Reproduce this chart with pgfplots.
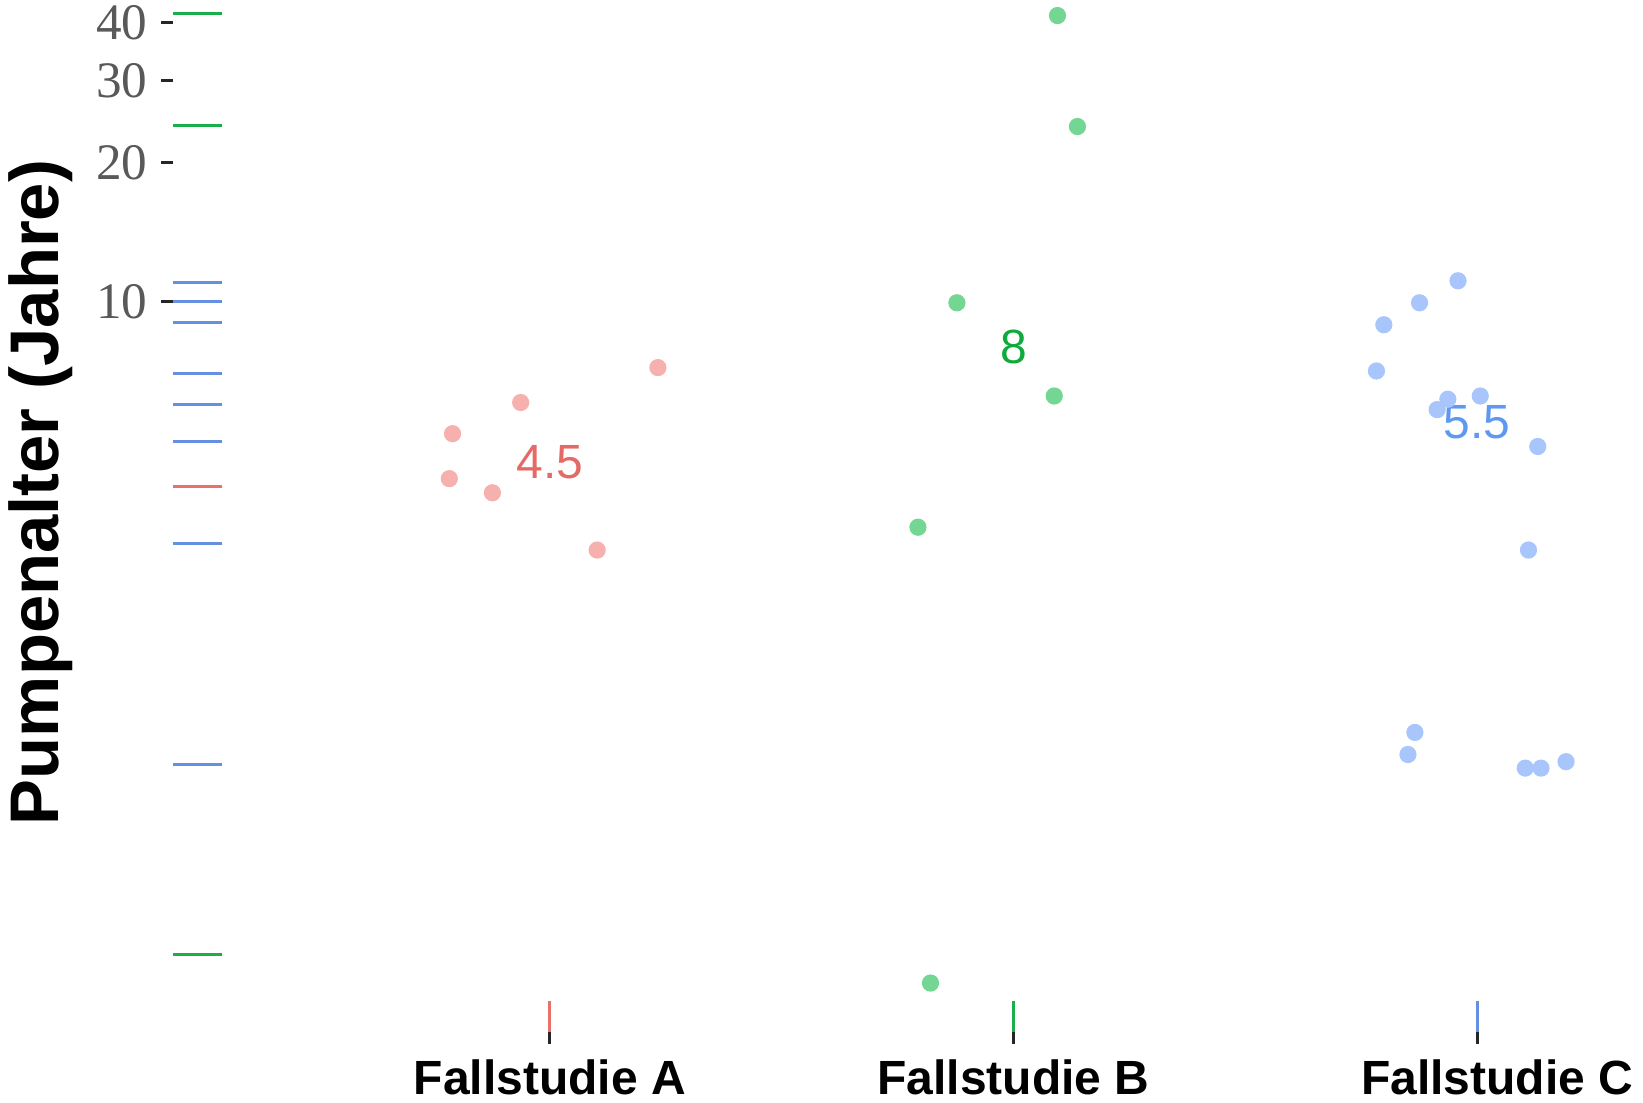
\documentclass[border=0pt]{standalone}
\usepackage{pgfplots}
\pgfplotsset{compat=1.18}
\usepackage{fontspec}
\setmainfont{Liberation Sans}
\newfontfamily\serifticks{Liberation Serif}
\definecolor{rugred}{HTML}{E8716B}
\definecolor{ruggreen}{HTML}{1BAF4A}
\definecolor{rugblue}{HTML}{6390E0}
\definecolor{ptred}{HTML}{F6B0AD}
\definecolor{ptgreen}{HTML}{73D692}
\definecolor{ptblue}{HTML}{A8C6FC}
\definecolor{txtred}{HTML}{E46A66}
\definecolor{txtgreen}{HTML}{0EAA3C}
\definecolor{txtblue}{HTML}{5E98F0}
\begin{document}
\begin{tikzpicture}
\begin{axis}[
  at={(0,0)}, anchor=south west,
  scale only axis, width=367.5pt, height=258pt,
  xmin=0.187, xmax=3.358,
  ymode=log, ymin=0.265, ymax=44.84,
  axis line style={draw=none},
  xtick={1,2,3}, xticklabels={Fallstudie A,Fallstudie B,\hspace*{10pt}Fallstudie C},
  ytick={10,20,30,40}, yticklabels={10,20,30,40},
  yminorticks=false, xminorticks=false,
  tick align=outside, xtick pos=bottom, ytick pos=left,
  major tick length=2.9pt,
  tick style={line width=0.75pt, color=black!85},
  xticklabel style={font=\bfseries\fontsize{12}{12}\selectfont, text=black, yshift=-0.5pt},
  yticklabel style={font=\serifticks\fontsize{12.8}{13}\selectfont, text=black!65},
  clip=false,
]
% points (jittered)
\addplot[only marks, color=ptred, mark=*, mark size=1.95pt, mark options={draw=ptred, fill=ptred}] coordinates {
 (0.790,5.19) (0.783,4.15) (0.876,3.87) (0.937,6.06) (1.102,2.91) (1.233,7.21)};
\addplot[only marks, color=ptgreen, mark=*, mark size=1.95pt, mark options={draw=ptgreen, fill=ptgreen}] coordinates {
 (1.878,9.95) (2.095,41.5) (2.138,23.9) (2.088,6.26) (1.794,3.26) (1.821,0.338)};
\addplot[only marks, color=ptblue, mark=*, mark size=1.95pt, mark options={draw=ptblue, fill=ptblue}] coordinates {
 (2.959,11.1) (2.876,9.95) (2.799,8.92) (2.783,7.09) (2.914,5.85) (2.937,6.16) (3.007,6.26)
 (3.131,4.87) (3.111,2.91) (2.866,1.175) (2.851,1.053) (3.104,0.984) (3.138,0.984) (3.192,1.016)};
% left rug
\addplot[only marks, mark=-, mark size=6.125pt, mark options={line width=0.75pt, draw=rugred}] coordinates {
 (0.2399,7) (0.2399,6) (0.2399,5) (0.2399,4) (0.2399,4) (0.2399,3)};
\addplot[only marks, mark=-, mark size=6.125pt, mark options={line width=0.75pt, draw=ruggreen}] coordinates {
 (0.2399,0.39) (0.2399,3) (0.2399,6) (0.2399,10) (0.2399,24) (0.2399,42)};
\addplot[only marks, mark=-, mark size=6.125pt, mark options={line width=0.75pt, draw=rugblue}] coordinates {
 (0.2399,1) (0.2399,3) (0.2399,5) (0.2399,6) (0.2399,7) (0.2399,9) (0.2399,10) (0.2399,11)};
% bottom rug
\addplot[only marks, mark=|, mark size=3.875pt, mark options={line width=0.75pt, draw=rugred}] coordinates {(1,0.2864)};
\addplot[only marks, mark=|, mark size=3.875pt, mark options={line width=0.75pt, draw=ruggreen}] coordinates {(2,0.2864)};
\addplot[only marks, mark=|, mark size=3.875pt, mark options={line width=0.75pt, draw=rugblue}] coordinates {(3,0.2864)};
% medians
\node[text=txtred, font=\fontsize{12}{12}\selectfont] at (axis cs:1,4.5) {4.5};
\node[text=txtgreen, font=\fontsize{12}{12}\selectfont] at (axis cs:2,8) {8};
\node[text=txtblue, font=\fontsize{12}{12}\selectfont] at (axis cs:3,5.5) {5.5};
\end{axis}
\node[rotate=90, font=\bfseries\fontsize{17.2}{18}\selectfont] at (-33pt,134.9pt) {Pumpenalter (Jahre)};
\pgfresetboundingbox
\path[use as bounding box] (-43.25pt,-17.75pt) rectangle (367.5pt,258pt);
\end{tikzpicture}
\end{document}
